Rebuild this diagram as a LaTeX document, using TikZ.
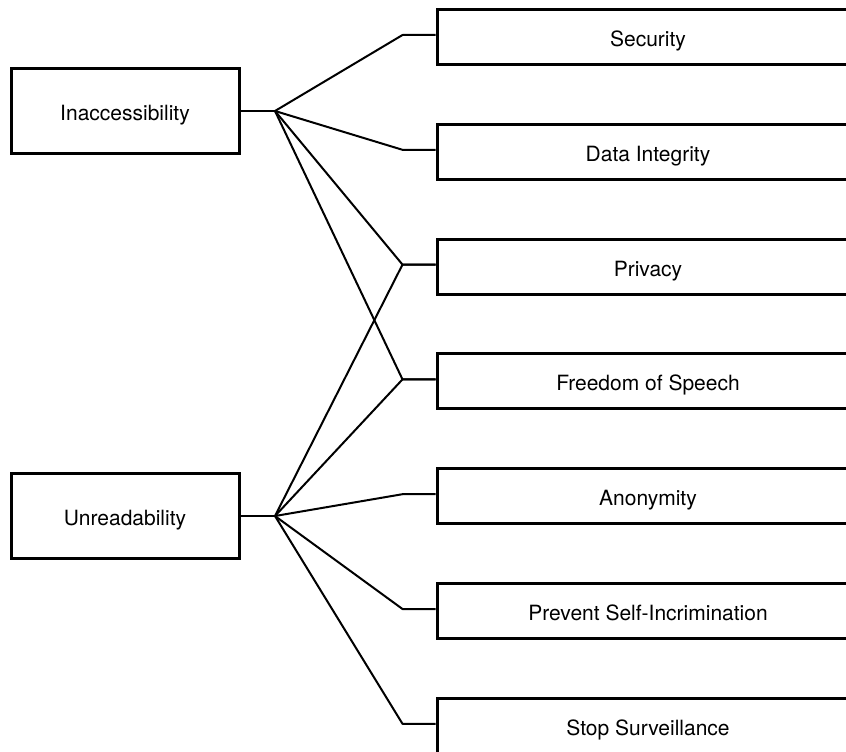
\documentclass[tikz,border=0pt]{standalone}
\usepackage{fontspec}
\setmainfont{TeX Gyre Heros}
\usepackage{tikz}
\usetikzlibrary{calc,positioning}

\begin{document}
\begin{tikzpicture}[x=1pt,y=-1pt,
  cause/.style={draw=black, line width=3pt, minimum width=228pt, minimum height=85pt,
    inner sep=0pt, text height=19pt, text depth=0pt, font=\fontsize{21}{25}\selectfont},
  goal/.style={draw=black, line width=3pt, minimum width=422pt, minimum height=55pt,
    inner sep=0pt, text height=19pt, text depth=0pt, font=\fontsize{21}{25}\selectfont},
  link/.style={black, line width=2pt, line join=round}]
\useasboundingbox (0,0) rectangle (846,752);
\clip (0,0) rectangle (846,752);

% left side
\node[cause] (inacc)  at (125,111) {Inaccessibility};
\node[cause] (unread) at (125,516) {Unreadability};

% right side
\node[goal] (sec)     at (648,37)    {Security};
\node[goal] (integ)   at (648,151.8) {Data Integrity};
\node[goal] (priv)    at (648,266.6) {Privacy};
\node[goal] (speech)  at (648,381.4) {Freedom of Speech};
\node[goal] (anon)    at (648,496.2) {Anonymity};
\node[goal] (selfinc) at (648,611)   {Prevent Self-Incrimination};
\node[goal] (surv)    at (648,725.8) {Stop Surveillance};

\coordinate (hubA) at (275,111);
\coordinate (hubB) at (275,516);

\draw[link] (inacc.east) -- (hubA);
\draw[link] (unread.east) -- (hubB);

\foreach \t in {sec,integ,priv,speech}{
  \draw[link] (hubA) -- ([xshift=-33pt,yshift=2pt]\t.west) -- ([yshift=2pt]\t.west);
}
\foreach \t in {priv,speech,anon,selfinc,surv}{
  \draw[link] (hubB) -- ([xshift=-33pt,yshift=2pt]\t.west) -- ([yshift=2pt]\t.west);
}
\end{tikzpicture}
\end{document}
